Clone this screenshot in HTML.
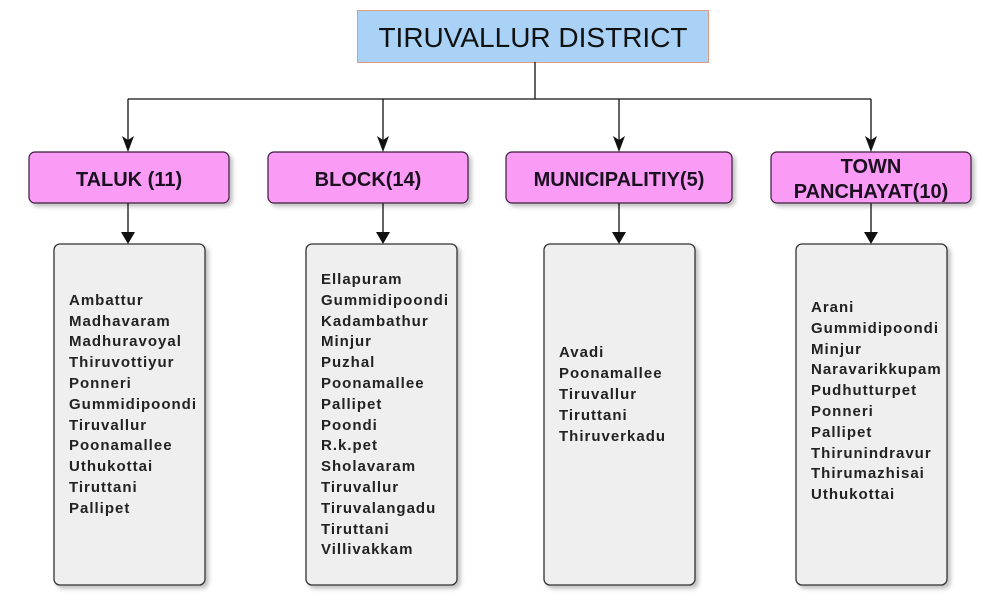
<!DOCTYPE html>
<html><head><meta charset="utf-8"><style>
html,body{margin:0;padding:0;background:#fff;}
svg{display:block}
.t{font-family:"Liberation Sans",sans-serif;font-size:15px;font-weight:bold;fill:#222;letter-spacing:1px}
.h{font-family:"Liberation Sans",sans-serif;font-size:20px;font-weight:bold;fill:#1a1020;text-anchor:middle}
</style></head><body>
<svg width="1000" height="606" viewBox="0 0 1000 606" xmlns="http://www.w3.org/2000/svg">
<defs>
<filter id="sh" x="-10%" y="-10%" width="130%" height="130%"><feDropShadow dx="3" dy="3" stdDeviation="2" flood-color="#000" flood-opacity="0.25"/></filter>
</defs>
<rect x="357.5" y="10.5" width="351" height="52" fill="#a9d2f6" stroke="#e09a80" stroke-width="1"/>
<text x="533" y="47" font-family="Liberation Sans,sans-serif" font-size="28" fill="#111" text-anchor="middle">TIRUVALLUR DISTRICT</text>
<g stroke="#111" stroke-width="1.3" fill="none">
<path d="M535 62V99M128 99H871M128 99V142M383 99V142M619 99V142M871 99V142"/>
<path d="M128 203V234M383 203V234M619 203V234M871 203V234"/>
</g>
<g fill="#111">
<path d="M122 136L128 152L134 136L128 140Z"/><path d="M377 136L383 152L389 136L383 140Z"/><path d="M613 136L619 152L625 136L619 140Z"/><path d="M865 136L871 152L877 136L871 140Z"/>
<path d="M121 232L128 244L135 232Z"/><path d="M376 232L383 244L390 232Z"/><path d="M612 232L619 244L626 232Z"/><path d="M864 232L871 244L878 232Z"/>
</g>
<g fill="#fa9cf5" stroke="#3a1a3a" stroke-width="1.2" filter="url(#sh)">
<rect x="29" y="152" width="200" height="51" rx="6"/>
<rect x="268" y="152" width="200" height="51" rx="6"/>
<rect x="506" y="152" width="226" height="51" rx="6"/>
<rect x="771" y="152" width="200" height="51" rx="6"/>
</g>
<text class="h" x="129" y="186">TALUK (11)</text>
<text class="h" x="368" y="186">BLOCK(14)</text>
<text class="h" x="619" y="186">MUNICIPALITIY(5)</text>
<text class="h" x="871" y="173">TOWN</text>
<text class="h" x="871" y="198">PANCHAYAT(10)</text>
<g fill="#efefef" stroke="#333" stroke-width="1.3" filter="url(#sh)">
<rect x="54" y="244" width="151" height="341" rx="6"/>
<rect x="306" y="244" width="151" height="341" rx="6"/>
<rect x="544" y="244" width="151" height="341" rx="6"/>
<rect x="796" y="244" width="151" height="341" rx="6"/>
</g>
<g class="t">
<text x="69" y="305">Ambattur</text><text x="69" y="326">Madhavaram</text><text x="69" y="346">Madhuravoyal</text><text x="69" y="367">Thiruvottiyur</text><text x="69" y="388">Ponneri</text><text x="69" y="409">Gummidipoondi</text><text x="69" y="430">Tiruvallur</text><text x="69" y="450">Poonamallee</text><text x="69" y="471">Uthukottai</text><text x="69" y="492">Tiruttani</text><text x="69" y="513">Pallipet</text>
</g>
<g class="t">
<text x="321" y="284">Ellapuram</text><text x="321" y="305">Gummidipoondi</text><text x="321" y="326">Kadambathur</text><text x="321" y="346">Minjur</text><text x="321" y="367">Puzhal</text><text x="321" y="388">Poonamallee</text><text x="321" y="409">Pallipet</text><text x="321" y="430">Poondi</text><text x="321" y="450">R.k.pet</text><text x="321" y="471">Sholavaram</text><text x="321" y="492">Tiruvallur</text><text x="321" y="513">Tiruvalangadu</text><text x="321" y="534">Tiruttani</text><text x="321" y="554">Villivakkam</text>
</g>
<g class="t">
<text x="559" y="357">Avadi</text><text x="559" y="378">Poonamallee</text><text x="559" y="399">Tiruvallur</text><text x="559" y="420">Tiruttani</text><text x="559" y="441">Thiruverkadu</text>
</g>
<g class="t">
<text x="811" y="312">Arani</text><text x="811" y="333">Gummidipoondi</text><text x="811" y="354">Minjur</text><text x="811" y="374">Naravarikkupam</text><text x="811" y="395">Pudhutturpet</text><text x="811" y="416">Ponneri</text><text x="811" y="437">Pallipet</text><text x="811" y="458">Thirunindravur</text><text x="811" y="478">Thirumazhisai</text><text x="811" y="499">Uthukottai</text>
</g>
</svg>
</body></html>
